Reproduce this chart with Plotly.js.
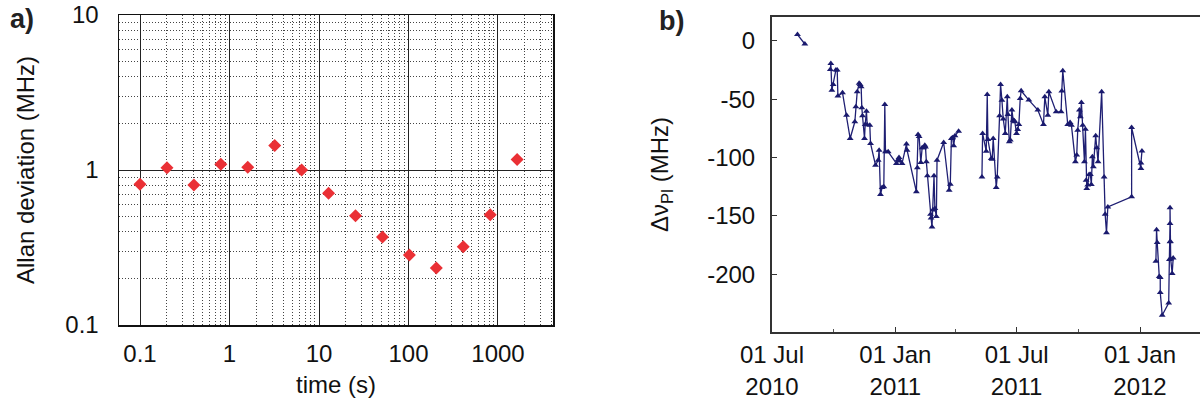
<!DOCTYPE html>
<html>
<head>
<meta charset="utf-8">
<script src="https://cdn.plot.ly/plotly-3.0.1.min.js"></script>
<style>
  html, body { margin: 0; padding: 0; background: #fff; overflow: hidden; }
  #chart { width: 1210px; height: 403px; }
</style>
</head>
<body>
<div id="chart"></div>
<script>
// ---------- Panel a: Allan deviation ----------
const tauSeconds = [0.1, 0.2, 0.4, 0.8, 1.6, 3.2, 6.4, 12.8, 25.6, 51.2, 102.4, 204.8, 409.6, 819.2, 1638.4];
const allanDevMHz = [0.81, 1.035, 0.80, 1.09, 1.04, 1.44, 1.0, 0.707, 0.507, 0.37, 0.283, 0.233, 0.32, 0.515, 1.17];
const aTickVals = [0.1, 1, 10, 100, 1000];
const aTickText = ["0.1", "1", "10", "100", "1000"];
const aYTickVals = [0.1, 1, 10];
const aYTickText = ["0.1", "1", "10"];
const aMinorDecadesX = [0.1, 1, 10, 100, 1000];
const aMinorDecadesY = [0.1, 1];
const minorMultipliers = [2, 3, 4, 5, 6, 7, 8, 9];

// ---------- Panel b: frequency shift vs date ----------
// day offsets from 01 Jul 2010; null marks a break in the line
const dayOffset = [
  38, 49,
  null,
  87.0, 87.8, 89.3, 91.3, 95.3, 97.3, 98.3, 105.2, 111.2, 116.6, 123.6, 125.1, 127.1, 130.0, 131.5, 133.0,
  134.0, 135.0, 138.0, 139.0, 140.9, 142.0, 145.9, 147.0, 154.4, 158.4, 159.8, 161.8, 164.3, 166.8, 168.3,
  169.3, 173.3, 185.6, 188.0, 189.5, 191.0, 194.0, 200.6, 201.5, 215.4, 216.9, 217.9, 219.5, 222.0, 224.0,
  226.3, 228.0, 229.0, 230.3, 231.8, 236.5, 237.3, 238.7, 240.0, 241.7, 243.0, 245.2, 246.2, 256.1, 264.3,
  266.0, 267.6, 269.5, 271.0, 273.0, 278.4,
  null,
  313.2, 314.2, 319.6, 321.1, 322.1, 327.1, 328.5, 330.0, 334.5, 336.0, 339.5, 341.0, 343.0, 345.0, 348.0,
  351.0, 352.0, 354.0, 355.5, 357.9, 359.8, 361.5, 362.3, 364.8, 366.5, 368.3, 370.3, 371.7, 383.2, 396.6,
  405.0, 407.0, 411.5, 413.0, 423.9, 431.3, 432.3, 433.8, 441.2, 444.7, 446.7, 452.6, 454.6, 456.1, 458.6,
  460.1, 461.6, 463.6, 466.1, 467.6, 468.6, 469.6, 471.0, 473.1, 475.0, 476.4, 477.9, 479.4, 482.9, 484.4,
  486.4, 491.8, 495.5, 497.0, 499.0, 501.0, 536.5, 536.5, 550.4, 550.4, 551.9,
  null,
  572.7, 573.7, 574.7, 577.7, 579.2, 579.2, 582.1, 591.8, 592.8, 593.8, 593.8, 593.8, 594.3, 594.8, 597.0, 598.5
];
const shiftMHz = [
  5.3, -2.8,
  null,
  -24.6, -19.4, -42.3, -37.4, -25.1, -25.1, -47.4, -44.6, -63.7, -83.7, -69.4, -56.6, -43.7, -36.5, -37.5, -39.4,
  -57.4, -64.3, -83.7, -71.7, -60.3, -72.0, -72.3, -88.0, -106.6, -102.3, -93.7, -131.7, -125.7, -125.1, -54.5,
  -95.1, -95.1, -105.1, -102.0, -100.0, -103.0, -105.1, -88.5, -93.7, -129.4, -108.8, -80.3, -82.0, -104.3, -91.7,
  -91.7, -89.5, -91.0, -103.7, -115.7, -148.5, -151.7, -159.4, -145.0, -115.7, -143.7, -150.5, -102.3, -87.1, -128.0,
  -122.9, -83.7, -83.0, -89.9, -81.4, -77.4,
  null,
  -116.6, -79.4, -94.6, -46.0, -84.6, -100.9, -101.5, -83.7, -125.7, -116.6, -64.3, -37.4, -50.9, -67.1, -79.4,
  -48.0, -63.1, -86.6, -85.0, -59.4, -68.0, -68.5, -69.4, -79.4, -76.0, -71.7, -49.4, -42.8, -50.8, -59.4,
  -71.7, -48.0, -63.7, -43.7, -60.9, -60.9, -43.1, -25.7, -71.7, -70.0, -72.3, -103.7, -97.9, -76.6, -59.4,
  -65.1, -52.8, -72.3, -103.7, -75.7, -119.4, -126.6, -123.5, -114.6, -114.6, -123.1, -99.4, -108.0, -81.4, -91.7,
  -103.7, -43.7, -116.6, -148.5, -164.4, -142.3, -133.7, -74.3, -109.4, -104.6, -94.5,
  null,
  -188.9, -161.8, -172.8, -201.8, -202.7, -215.5, -235.1, -224.6, -187.4, -172.2, -156.5, -143.1, -172.0, -187.0, -199.4, -186.0
];
const bYTickVals = [0, -50, -100, -150, -200];
const bYTickText = ["0", "-50", "-100", "-150", "-200"];
const startDate = "2010-07-01";
const endDate = "2012-04-01";

function pad(n) { return (n < 10 ? "0" : "") + n; }
function offsetToDate(d) {
  if (d === null) return null;
  const base = Date.UTC(2010, 6, 1);
  const t = new Date(base + d * 86400000);
  return t.getUTCFullYear() + "-" + pad(t.getUTCMonth() + 1) + "-" + pad(t.getUTCDate()) + " " +
         pad(t.getUTCHours()) + ":" + pad(t.getUTCMinutes()) + ":00";
}
const shiftDates = dayOffset.map(offsetToDate);

function minorGridVals(decades) {
  const out = [];
  decades.forEach(d => minorMultipliers.forEach(m => out.push(d * m)));
  return out;
}

const W = 1210, H = 403;
const FAM = "Liberation Sans, Arial, sans-serif";
const font = { family: FAM, size: 24, color: "#111" };

const traces = [
  {
    type: "scatter", mode: "markers",
    x: tauSeconds, y: allanDevMHz, xaxis: "x", yaxis: "y",
    marker: { symbol: "diamond", size: 10, color: "#ea3035", line: { width: 0 } },
    showlegend: false
  },
  {
    type: "scatter", mode: "lines+markers",
    x: shiftDates, y: shiftMHz, xaxis: "x2", yaxis: "y2",
    line: { color: "#1f1f73", width: 1.3 },
    marker: { symbol: "triangle-up", size: 6, color: "#1a1a6e" },
    connectgaps: false, showlegend: false
  }
];

const minorGrid = { showgrid: true, gridcolor: "#444", griddash: "1px,2px", gridwidth: 1, ticks: "" };

const layout = {
  width: W, height: H,
  margin: { l: 0, r: 0, t: 0, b: 0 },
  paper_bgcolor: "#fff", plot_bgcolor: "#fff",
  font: font,
  showlegend: false,
  xaxis: {
    type: "log", domain: [119 / W, 553 / W], range: [-1.235, 3.615],
    anchor: "y", automargin: false,
    tickvals: aTickVals, ticktext: aTickText,
    ticks: "", ticklabelstandoff: 7,
    showgrid: true, gridcolor: "#222", gridwidth: 1,
    minor: Object.assign({ tickmode: "array", tickvals: minorGridVals(aMinorDecadesX) }, minorGrid),
    showline: true, linecolor: "#111", linewidth: 1.5, mirror: true,
    zeroline: false,
    title: { text: "time (s)", font: font, standoff: 10 }
  },
  yaxis: {
    type: "log", domain: [1 - 325 / H, 1 - 15 / H], range: [-1, 1],
    anchor: "x", automargin: false,
    tickvals: aYTickVals, ticktext: aYTickText,
    ticks: "", ticklabelstandoff: 14,
    showgrid: true, gridcolor: "#222", gridwidth: 1,
    minor: Object.assign({ tickmode: "array", tickvals: minorGridVals(aMinorDecadesY) }, minorGrid),
    showline: true, linecolor: "#111", linewidth: 1.5, mirror: true,
    zeroline: false,
    title: { text: "Allan deviation (MHz)", font: font, standoff: 24 }
  },
  xaxis2: {
    type: "date", domain: [772 / W, 1201 / W], range: [startDate, endDate],
    anchor: "y2", automargin: false,
    tick0: startDate, dtick: "M6", tickformat: "%d %b<br>%Y",
    ticks: "inside", ticklen: 5, tickcolor: "#333", tickwidth: 1,
    minor: { dtick: "M3", ticks: "inside", ticklen: 3, tickcolor: "#555", showgrid: false },
    showgrid: false, zeroline: false,
    showline: true, linecolor: "#333", linewidth: 2, mirror: true,
    ticklabelstandoff: 1
  },
  yaxis2: {
    domain: [1 - 331.5 / H, 1 - 17.4 / H], range: [-249, 20],
    anchor: "x2", automargin: false,
    tickvals: bYTickVals, ticktext: bYTickText,
    ticks: "inside", ticklen: 5, tickcolor: "#333",
    showgrid: false, zeroline: false,
    showline: true, linecolor: "#333", linewidth: 2,
    ticklabelstandoff: 10,
    title: { text: "Δν<sub>Pl</sub> (MHz)", font: font, standoff: 32 }
  },
  annotations: [
    { text: "<b>a)</b>", xref: "paper", yref: "paper", x: 8 / W, y: 1 - 19 / H,
      xanchor: "left", yanchor: "middle", showarrow: false,
      font: { family: FAM, size: 27, color: "#222" } },
    { text: "<b>b)</b>", xref: "paper", yref: "paper", x: 657 / W, y: 1 - 21 / H,
      xanchor: "left", yanchor: "middle", showarrow: false,
      font: { family: FAM, size: 27, color: "#222" } }
  ]
};

Plotly.newPlot("chart", traces, layout, { displayModeBar: false, staticPlot: true });
</script>
</body>
</html>
